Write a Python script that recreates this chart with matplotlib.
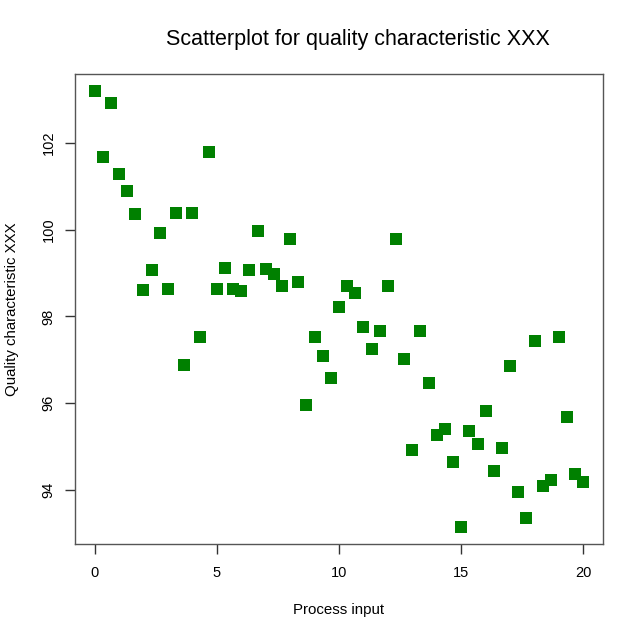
import matplotlib.pyplot as plt
import numpy as np

plt.rcParams['font.family'] = ['Liberation Sans', 'DejaVu Sans']

# process input: 61 equally spaced settings from 0 to 20
process_input = np.arange(61) / 3.0
quality = [
    103.18, 101.68, 102.91, 101.28, 100.89, 100.36, 98.60, 99.07, 99.91, 98.62,
    100.39, 96.88, 100.38, 97.53, 101.79, 98.64, 99.11, 98.62, 98.59, 99.06,
    99.97, 99.10, 98.97, 98.70, 99.77, 98.80, 95.95, 97.52, 97.09, 96.59,
    98.21, 98.70, 98.54, 97.75, 97.25, 97.66, 98.71, 99.77, 97.03, 94.93,
    97.66, 96.47, 95.26, 95.40, 94.65, 93.16, 95.37, 95.06, 95.83, 94.44,
    94.98, 96.86, 93.95, 93.36, 97.43, 94.09, 94.24, 97.52, 95.69, 94.36,
    94.18,
]
x_ticks = [0, 5, 10, 15, 20]
y_ticks = [94, 96, 98, 100, 102]

fig = plt.figure(figsize=(6.4, 6.39), dpi=100)
ax = fig.add_axes([75/640, 1-544/639, 528/640, 470/639])

ax.plot(process_input, quality, 's', color='#008000', markersize=8,
        markeredgewidth=0)

ax.set_xlim(-0.8, 20.8)
ax.set_ylim(92.76, 103.58)
ax.set_xticks(x_ticks)
ax.set_yticks(y_ticks)
ax.tick_params(direction='out', length=7, width=1, color='#333333',
               labelsize=10.5)
ax.tick_params(axis='x', pad=9)
ax.tick_params(axis='y', pad=7)
for lab in ax.get_yticklabels():
    lab.set_rotation(90)
    lab.set_va('center')
for s in ax.spines.values():
    s.set_color('#555555')
    s.set_linewidth(1)

ax.set_xlabel('Process input', fontsize=10.8, va='center')
ax.set_ylabel('Quality characteristic XXX', fontsize=10.8, va='center')
ax.xaxis.set_label_coords(0.5, (544-610)/470)
ax.yaxis.set_label_coords((12-75)/528, 0.5)
fig.text(0.56, 1-40/639, 'Scatterplot for quality characteristic XXX',
         ha='center', va='center', fontsize=15.5)

fig.savefig('out.png')
